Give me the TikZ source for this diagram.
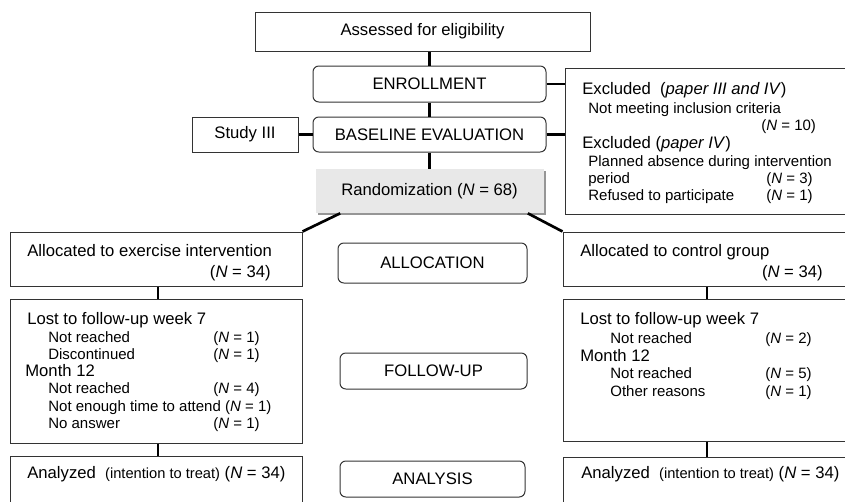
\documentclass[tikz,border=0pt]{standalone}
\usepackage{fontspec}
\setmainfont{Liberation Sans}
\usepackage{tikz}
\usetikzlibrary{shadows, calc}
\definecolor{randgray}{RGB}{232, 232, 232}
\definecolor{shadegray}{RGB}{150, 150, 150}
\newcommand{\nn}[1]{(\textit{N} = #1)}

\tikzset{
  every node/.style={font=\fontsize{10pt}{12pt}\selectfont},
  box/.style={draw=black!80, line width=0.6pt, fill=white, inner sep=0pt},
  phase/.style={box, rounded corners=3.5pt},
  link/.style={line width=1.6pt},
  txt/.style={anchor=base west, inner sep=0pt},
  txtr/.style={anchor=base east, inner sep=0pt},
  sub/.style={txt, font=\fontsize{9pt}{11pt}\selectfont},
}

\begin{document}
\begin{tikzpicture}[x=0.6pt, y=-0.6pt]
  \useasboundingbox (0, 0) rectangle (845, 501);
  \clip (0, 0) rectangle (845, 501);

  % centre column
  \node[box, minimum width=201pt, minimum height=23.4pt] (assess) at (422.5, 31.5) {Assessed for eligibility};
  \node[phase, minimum width=139.8pt, minimum height=21.6pt] (enroll) at (429.5, 84) {ENROLLMENT};
  \node[phase, minimum width=139.8pt, minimum height=21pt] (baseline) at (429.5, 134.5) {BASELINE EVALUATION};
  \node[box, minimum width=63.6pt, minimum height=21pt] (study) at (245, 134.5) {Study III};
  \node[inner sep=0pt, fill=randgray, minimum width=136.8pt, minimum height=26.4pt,
        drop shadow={shadow xshift=1.2pt, shadow yshift=-1.2pt, fill=shadegray, opacity=1}]
        (rand) at (429.5, 191) {Randomization \nn{68}};
  \node[phase, minimum width=113.4pt, minimum height=24pt] (allocation) at (432.5, 263) {ALLOCATION};
  \node[phase, minimum width=112.2pt, minimum height=21.6pt] (followup) at (433.5, 371) {FOLLOW-UP};
  \node[phase, minimum width=111pt, minimum height=21.6pt] (analysis) at (432.5, 479) {ANALYSIS};

  % excluded
  \node[box, minimum width=177pt, minimum height=87.6pt] (excl) at (712.5, 141) {};
  \node[txt] (exA) at (582, 94) {Excluded\ \ (\textit{paper III and IV})};
  \node[sub] (exAa) at (588, 113) {Not meeting inclusion criteria};
  \node[sub] (exAn) at (761, 130) {\nn{10}};
  \node[txt] (exB) at (582, 148) {Excluded (\textit{paper IV})};
  \node[sub] (exBa) at (588, 166) {Planned absence during intervention};
  \node[sub] (exBb) at (588, 183) {period};
  \node[sub] (exBbn) at (766, 183) {\nn{3}};
  \node[sub] (exBc) at (588, 200) {Refused to participate};
  \node[sub] (exBcn) at (766, 200) {\nn{1}};

  % exercise arm
  \node[box, minimum width=175.2pt, minimum height=32.4pt] (allocEx) at (156, 259) {};
  \node[txt] (allocExT) at (27, 256) {Allocated to exercise intervention};
  \node[txtr] (allocExN) at (271, 277) {\nn{34}};
  \node[box, minimum width=175.2pt, minimum height=86.4pt] (lostEx) at (156, 371) {};
  \node[txt] (lostExT) at (27, 324) {Lost to follow-up week 7};
  \node[sub] (lostExA) at (48, 342) {Not reached};
  \node[sub] (lostExAn) at (213, 342) {\nn{1}};
  \node[sub] (lostExB) at (48, 359) {Discontinued};
  \node[sub] (lostExBn) at (213, 359) {\nn{1}};
  \node[txt] (lostExM) at (25, 376) {Month 12};
  \node[sub] (lostExC) at (48, 393) {Not reached};
  \node[sub] (lostExCn) at (213, 393) {\nn{4}};
  \node[sub] (lostExD) at (48, 411) {Not enough time to attend \nn{1}};
  \node[sub] (lostExE) at (48, 428) {No answer};
  \node[sub] (lostExEn) at (213, 428) {\nn{1}};
  \node[box, minimum width=175.2pt, minimum height=38.4pt] (anaEx) at (156, 488) {};
  \node[txt] (anaExT) at (27, 478) {Analyzed\ \ {\fontsize{8.8pt}{10pt}\selectfont(intention to treat)} \nn{34}};

  % control arm
  \node[box, minimum width=178.2pt, minimum height=32.4pt] (allocCtl) at (711.5, 259) {};
  \node[txt] (allocCtlT) at (580, 256) {Allocated to control group};
  \node[txtr] (allocCtlN) at (823, 277) {\nn{34}};
  \node[box, minimum width=178.2pt, minimum height=85.2pt] (lostCtl) at (711.5, 370) {};
  \node[txt] (lostCtlT) at (580, 324) {Lost to follow-up week 7};
  \node[sub] (lostCtlA) at (610, 343) {Not reached};
  \node[sub] (lostCtlAn) at (765, 343) {\nn{2}};
  \node[txt] (lostCtlM) at (580, 361) {Month 12};
  \node[sub] (lostCtlB) at (610, 378) {Not reached};
  \node[sub] (lostCtlBn) at (765, 378) {\nn{5}};
  \node[sub] (lostCtlC) at (610, 396) {Other reasons};
  \node[sub] (lostCtlCn) at (765, 396) {\nn{1}};
  \node[box, minimum width=178.2pt, minimum height=37.8pt] (anaCtl) at (711.5, 488.5) {};
  \node[txt] (anaCtlT) at (581, 478) {Analyzed\ \ {\fontsize{8.8pt}{10pt}\selectfont(intention to treat)} \nn{34}};

  % connectors
  \coordinate (exAxis) at (158, 0);
  \coordinate (ctlAxis) at (707, 0);
  \draw[link] (enroll.north) -- (enroll.north |- assess.south);
  \draw[link] (enroll) -- (baseline);
  \draw[link] (baseline) -- (rand);
  \draw[link] (study) -- (baseline);
  \draw[link] (enroll.east) -- (enroll.east -| excl.west);
  \draw[link] (baseline.east) -- (baseline.east -| excl.west);
  \draw[link] ([xshift=15pt]rand.south west) -- (allocEx.north east);
  \draw[link] ([xshift=-9.6pt]rand.south east) -- (allocCtl.north west);
  \draw[link] (allocEx.south -| exAxis) -- (lostEx.north -| exAxis);
  \draw[link] (lostEx.south -| exAxis) -- (anaEx.north -| exAxis);
  \draw[link] (allocCtl.south -| ctlAxis) -- (lostCtl.north -| ctlAxis);
  \draw[link] (lostCtl.south -| ctlAxis) -- (anaCtl.north -| ctlAxis);
\end{tikzpicture}
\end{document}
